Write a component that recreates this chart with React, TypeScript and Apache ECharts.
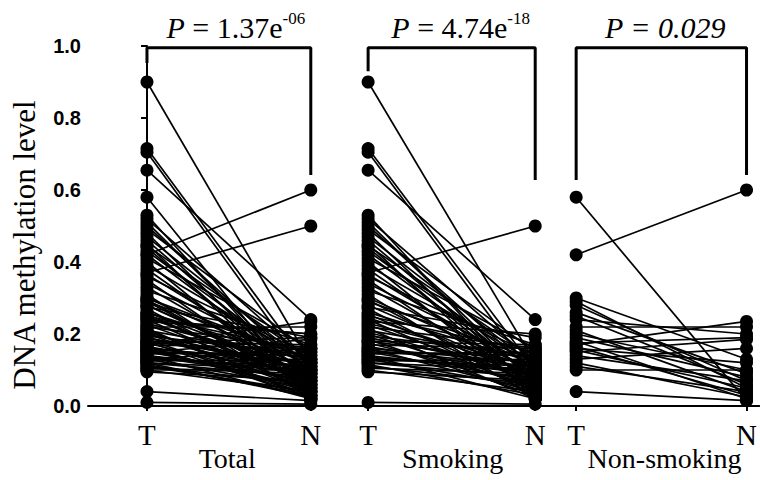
import React, { useEffect, useRef } from 'react';
import * as echarts from 'echarts';

// ---- data ----
const groupNames = ['Total', 'Smoking', 'Non-smoking'];
const pTexts = [
  '{i|P}{r| = 1.37e}{s|-06}',
  '{i|P}{r| = 4.74e}{s|-18}',
  '{i|P = 0.029}',
];
const pairLabels = ['T', 'N'];
const yTicks = [0, 0.2, 0.4, 0.6, 0.8, 1.0];

const smokingT = [
  0.90, 0.715, 0.705, 0.655, 0.53, 0.52, 0.51, 0.50, 0.49, 0.48, 0.47, 0.46, 0.45, 0.445, 0.44,
  0.43, 0.42, 0.41, 0.40, 0.39, 0.38, 0.37, 0.365, 0.36, 0.35, 0.34, 0.33, 0.32, 0.31, 0.30,
  0.295, 0.29, 0.28, 0.275, 0.27, 0.26, 0.255, 0.25, 0.245, 0.24, 0.235, 0.23, 0.225, 0.22, 0.215,
  0.21, 0.205, 0.20, 0.195, 0.19, 0.185, 0.18, 0.175, 0.17, 0.165, 0.16, 0.155, 0.15, 0.145, 0.14,
  0.135, 0.13, 0.125, 0.12, 0.115, 0.11, 0.105, 0.10, 0.095, 0.01, 0.18, 0.16, 0.15, 0.14, 0.13, 0.12,
];
const smokingN = [
  0.12, 0.10, 0.08, 0.24, 0.03, 0.12, 0.06, 0.09, 0.15, 0.04, 0.11, 0.07, 0.02, 0.13, 0.05,
  0.10, 0.08, 0.16, 0.03, 0.12, 0.06, 0.50, 0.09, 0.14, 0.04, 0.11, 0.07, 0.17, 0.02, 0.10,
  0.05, 0.13, 0.08, 0.19, 0.03, 0.12, 0.06, 0.15, 0.09, 0.04, 0.20, 0.11, 0.07, 0.16, 0.02,
  0.13, 0.08, 0.05, 0.14, 0.10, 0.03, 0.12, 0.06, 0.16, 0.09, 0.04, 0.11, 0.07, 0.15, 0.02,
  0.10, 0.05, 0.13, 0.08, 0.03, 0.06, 0.09, 0.04, 0.07, 0.005, 0.17, 0.12, 0.14, 0.09, 0.11, 0.10,
];
const nonSmokingT = [
  0.58, 0.42, 0.30, 0.29, 0.28, 0.26, 0.25, 0.24, 0.22, 0.21, 0.20, 0.19, 0.18,
  0.175, 0.17, 0.165, 0.16, 0.155, 0.15, 0.14, 0.13, 0.12, 0.11, 0.10, 0.04,
];
const nonSmokingN = [
  0.015, 0.60, 0.13, 0.05, 0.07, 0.09, 0.06, 0.20, 0.22, 0.04, 0.10, 0.08, 0.02,
  0.19, 0.235, 0.03, 0.12, 0.05, 0.185, 0.07, 0.16, 0.025, 0.04, 0.10, 0.015,
];
const totalT = [...smokingT, ...nonSmokingT];
const totalN = [...smokingN, ...nonSmokingN];
const groupT = [totalT, smokingT, nonSmokingT];
const groupN = [totalN, smokingN, nonSmokingN];

// ---- layout (x positions of the T / N columns in axis units) ----
const colT = [0, 1.35, 2.62];
const colN = [1, 2.37, 3.66];
const titleX = [0.49, 1.866, 3.16];
const xMin = -0.36;
const xMax = 3.738;
// brackets: [left leg bottom, top, right leg bottom]
const bracketLeft = [0.953, 0.93, 0.628];
const bracketTop = [0.995, 0.995, 0.995];
const bracketRight = [0.642, 0.628, 0.642];
const pOffsetX = [7, 9, 4];

const SERIF = '"Liberation Serif", "DejaVu Serif", serif';
const SANS = '"Liberation Sans", Arial, sans-serif';

export default function App() {
  const ref = useRef<HTMLDivElement>(null);
  useEffect(() => {
    document.body.style.margin = '0';
    if (!ref.current) return;
    const chart = echarts.init(ref.current, undefined, { renderer: 'svg' });
    const tickVals: number[] = [];
    const tickNames: string[] = [];
    colT.forEach((t, i) => {
      tickVals.push(t, colN[i]);
      tickNames.push(pairLabels[0], pairLabels[1]);
    });
    const findName = (v: number, vals: number[], names: string[]) => {
      const idx = vals.findIndex((x) => Math.abs(x - v) < 1e-6);
      return idx >= 0 ? names[idx] : '';
    };

    const series: any[] = [];
    groupNames.forEach((g, gi) => {
      const ts = groupT[gi];
      const ns = groupN[gi];
      series.push({
        type: 'lines',
        name: g + ' pairs',
        coordinateSystem: 'cartesian2d',
        xAxisIndex: 0,
        yAxisIndex: 0,
        silent: true,
        z: 2,
        lineStyle: { color: '#000', width: 1.7, opacity: 1 },
        data: ts.map((t, i) => ({ coords: [[colT[gi], t], [colN[gi], ns[i]]] })),
      });
      series.push({
        type: 'scatter',
        name: g,
        xAxisIndex: 0,
        yAxisIndex: 0,
        symbolSize: 13,
        z: 3,
        itemStyle: { color: '#000', opacity: 1 },
        data: [
          ...ts.map((t) => [colT[gi], t]),
          ...ns.map((n) => [colN[gi], n]),
        ],
      });
      series.push({
        type: 'line',
        name: g + ' bracket',
        xAxisIndex: 0,
        yAxisIndex: 0,
        symbol: 'none',
        clip: false,
        z: 4,
        lineStyle: { color: '#000', width: 3 },
        data: [
          [colT[gi], bracketLeft[gi]],
          [colT[gi], bracketTop[gi]],
          [colN[gi], bracketTop[gi]],
          [colN[gi], bracketRight[gi]],
        ],
      });
    });

    chart.setOption({
      animation: false,
      backgroundColor: '#fff',
      grid: { left: 88, right: 0, top: 46, bottom: 74 },
      xAxis: [
        {
          type: 'value',
          min: xMin,
          max: xMax,
          position: 'bottom',
          splitLine: { show: false },
          axisLine: { show: true, onZero: false, lineStyle: { color: '#000', width: 2 } },
          axisTick: { show: true, customValues: tickVals, length: 5, lineStyle: { color: '#000', width: 2 } },
          axisLabel: {
            show: true,
            customValues: tickVals,
            margin: 14,
            color: '#000',
            fontFamily: SERIF,
            fontSize: 29,
            formatter: (v: number) => findName(v, tickVals, tickNames),
          },
        },
        {
          type: 'value',
          min: xMin,
          max: xMax,
          position: 'bottom',
          splitLine: { show: false },
          axisLine: { show: false },
          axisTick: { show: false },
          axisLabel: {
            show: true,
            customValues: titleX,
            margin: 38,
            color: '#000',
            fontFamily: SERIF,
            fontSize: 28,
            formatter: (v: number) => findName(v, titleX, groupNames),
          },
        },
      ],
      yAxis: {
        type: 'value',
        min: 0,
        max: 1,
        interval: 0.2,
        splitLine: { show: false },
        axisLine: { show: true, lineStyle: { color: '#000', width: 2 } },
        axisTick: { show: true, length: 6, lineStyle: { color: '#000', width: 2 } },
        axisLabel: {
          color: '#000',
          fontFamily: SANS,
          fontWeight: 'bold',
          fontSize: 20,
          margin: 7,
          formatter: (v: number) => (yTicks.some((t) => Math.abs(t - v) < 1e-6) ? v.toFixed(1) : ''),
        },
      },
      series,
    });

    const graphics: any[] = [
      {
        type: 'text',
        x: 24,
        y: 245,
        rotation: Math.PI / 2,
        style: {
          text: 'DNA methylation level',
          fontFamily: SERIF,
          fontSize: 31,
          fill: '#000',
          align: 'center',
          verticalAlign: 'middle',
        },
      },
    ];
    groupNames.forEach((g, gi) => {
      const mid = (colT[gi] + colN[gi]) / 2;
      const px = chart.convertToPixel({ xAxisIndex: 0, yAxisIndex: 0 }, [mid, 1]) as number[];
      graphics.push({
        type: 'text',
        x: px[0] + pOffsetX[gi],
        y: 27,
        style: {
          text: pTexts[gi],
          align: 'center',
          verticalAlign: 'middle',
          fill: '#000',
          fontFamily: SERIF,
          fontSize: 30,
          lineHeight: 34,
          rich: {
            i: { fontFamily: SERIF, fontSize: 30, fontStyle: 'italic', lineHeight: 34, fill: '#000' },
            r: { fontFamily: SERIF, fontSize: 30, lineHeight: 34, fill: '#000' },
            s: { fontFamily: SERIF, fontSize: 17, lineHeight: 14, verticalAlign: 'top', fill: '#000' },
          },
        },
      });
    });
    chart.setOption({ graphic: graphics });

    return () => chart.dispose();
  }, []);
  return <div ref={ref} style={{ width: 760, height: 480 }} />;
}
